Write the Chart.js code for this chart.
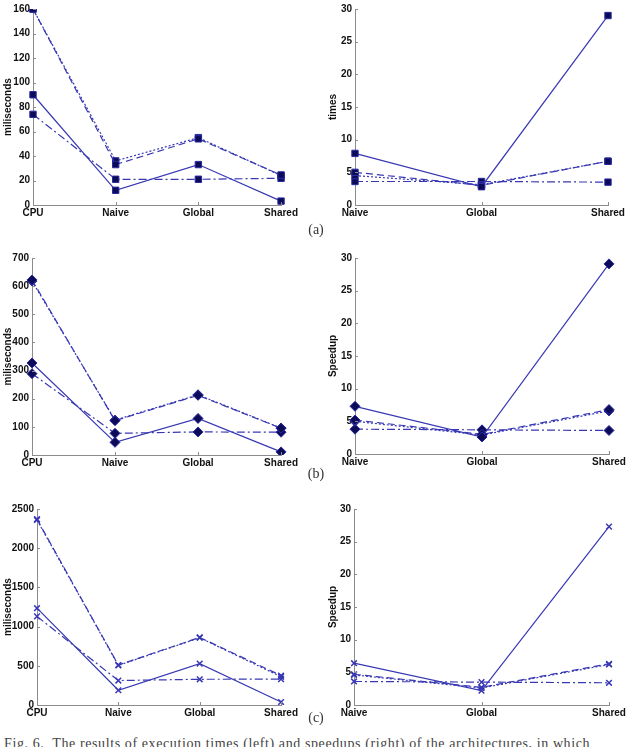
<!DOCTYPE html>
<html>
<head>
<meta charset="utf-8">
<script src="https://cdn.jsdelivr.net/npm/chart.js@4.4.1/dist/chart.umd.min.js"></script>
<style>
  body { margin: 0; width: 632px; height: 747px; overflow: hidden; background: #fff; position: relative; }
  .box { position: absolute; }
  .tag { position: absolute; width: 40px; text-align: center; font-family: 'Liberation Serif', 'DejaVu Serif', serif; font-size: 14px; color: #333; }
  .cap { position: absolute; left: 4px; top: 736px; white-space: nowrap; font-family: 'Liberation Serif', serif; font-size: 14px; color: #444; letter-spacing: 0.6px; }
</style>
</head>
<body>
<div class="box" style="left:0;top:0"><canvas id="aL"></canvas></div>
<div class="box" style="left:318px;top:0"><canvas id="aR"></canvas></div>
<div class="tag" style="left:296px;top:222px">(a)</div>
<div class="box" style="left:0;top:245px"><canvas id="bL"></canvas></div>
<div class="box" style="left:318px;top:245px"><canvas id="bR"></canvas></div>
<div class="tag" style="left:296px;top:466px">(b)</div>
<div class="box" style="left:0;top:490px"><canvas id="cL"></canvas></div>
<div class="box" style="left:318px;top:490px"><canvas id="cR"></canvas></div>
<div class="tag" style="left:296px;top:710px">(c)</div>
<div class="cap">Fig. 6.&nbsp; The results of execution times (left) and speedups (right) of the architectures, in which</div>

<script>
// categories
const stagesTime = ['CPU', 'Naive', 'Global', 'Shared'];
const stagesSpeed = ['Naive', 'Global', 'Shared'];

// (a) execution times, ms
const aSolid   = [90, 12, 33, 3.2];
const aDashed  = [160, 33, 54, 24.5];
const aDotted  = [160, 36, 55, 24];
const aDashDot = [74, 21, 21, 21.8];
// (a) speedups
const aSpSolid   = [7.9, 2.8, 29];
const aSpDashed  = [5.0, 3.0, 6.7];
const aSpDotted  = [4.5, 3.1, 6.7];
const aSpDashDot = [3.6, 3.6, 3.5];

// (b) execution times, ms
const bSolid   = [327, 45, 130, 11];
const bDashed  = [622, 122, 212, 95];
const bDotted  = [618, 124, 214, 96];
const bDashDot = [289, 77, 82, 81];
// (b) speedups
const bSpSolid   = [7.3, 2.6, 29.1];
const bSpDashed  = [5.2, 3.0, 6.8];
const bSpDotted  = [5.0, 2.9, 6.6];
const bSpDashDot = [3.8, 3.7, 3.6];

// (c) execution times, ms
const cSolid   = [1235, 188, 528, 38];
const cDashed  = [2370, 510, 862, 376];
const cDotted  = [2360, 505, 858, 360];
const cDashDot = [1130, 312, 328, 330];
// (c) speedups
const cSpSolid   = [6.4, 2.2, 27.3];
const cSpDashed  = [4.7, 2.7, 6.3];
const cSpDotted  = [4.6, 2.6, 6.2];
const cSpDashDot = [3.6, 3.5, 3.4];

const LINE = '#3838b4';
const MARK = '#0b0b58';
const AXIS = '#8c8c8c';
const FONT = "'Liberation Sans', Arial, sans-serif";
const dashes = [[], [7, 4], [2, 2], [8, 3, 2, 3]];

/** Matlab-style tick marks pointing into the plot */
const innerTicks = {
  id: 'innerTicks',
  afterDraw(chart) {
    const { ctx, chartArea: a, scales } = chart;
    ctx.save();
    ctx.strokeStyle = AXIS;
    ctx.lineWidth = 1;
    scales.x.ticks.forEach((t, i) => {
      const px = Math.round(scales.x.getPixelForTick(i)) + 0.5;
      ctx.beginPath(); ctx.moveTo(px, a.bottom); ctx.lineTo(px, a.bottom - 3); ctx.stroke();
    });
    scales.y.ticks.forEach((t, i) => {
      const py = Math.round(scales.y.getPixelForTick(i)) + 0.5;
      ctx.beginPath(); ctx.moveTo(a.left, py); ctx.lineTo(a.left + 3, py); ctx.stroke();
    });
    ctx.restore();
  }
};

function makeChart(id, box, area, labels, series, yMax, yStep, yTitle, titlePad, marker, markR) {
  const el = document.getElementById(id);
  el.width = box.w; el.height = box.h;
  el.style.width = box.w + 'px'; el.style.height = box.h + 'px';

  new Chart(el, {
    type: 'line',
    data: {
      labels: labels,
      datasets: series.map((s, i) => ({
        data: s,
        borderColor: LINE,
        borderWidth: 1.2,
        borderDash: dashes[i],
        fill: false,
        tension: 0,
        pointStyle: marker,
        pointRadius: markR,
        pointBackgroundColor: marker === 'crossRot' ? LINE : MARK,
        pointBorderColor: marker === 'crossRot' ? LINE : '#2a2aa0',
        pointBorderWidth: marker === 'crossRot' ? 1.5 : 1
      }))
    },
    options: {
      responsive: false,
      animation: false,
      events: [],
      layout: {
        padding: {
          top: area.t - box.y,
          right: box.x + box.w - area.r,
          bottom: box.y + box.h - area.b - 20,
          left: 0
        }
      },
      plugins: { legend: { display: false }, tooltip: { enabled: false } },
      scales: {
        x: {
          offset: false,
          grid: { display: false, drawTicks: false },
          border: { display: true, color: AXIS, width: 1 },
          ticks: { color: '#111', padding: 2, maxRotation: 0, autoSkip: false, font: { family: FONT, size: 10, weight: 'bold' } },
          afterFit: (s) => { s.height = 20; }
        },
        y: {
          min: 0,
          max: yMax,
          grid: { display: false, drawTicks: false },
          border: { display: true, color: AXIS, width: 1 },
          ticks: {
            stepSize: yStep, color: '#111', padding: 3,
            font: { family: FONT, size: 10, weight: 'bold' },
            callback: (v) => String(v)
          },
          title: { display: true, text: yTitle, color: '#111', padding: { top: titlePad, bottom: 0 }, font: { family: FONT, size: 10, weight: 'bold' } },
          afterFit: (s) => { s.width = area.l - box.x; }
        }
      }
    },
    plugins: [innerTicks]
  });
}

makeChart('aL', { x: 0, y: 0, w: 300, h: 230 }, { l: 33, t: 7, r: 282, b: 205 },
  stagesTime, [aSolid, aDashed, aDotted, aDashDot], 160, 20, 'miliseconds', 2, 'rect', 4.5);
makeChart('aR', { x: 318, y: 0, w: 314, h: 230 }, { l: 355, t: 9, r: 608, b: 205 },
  stagesSpeed, [aSpSolid, aSpDashed, aSpDotted, aSpDashDot], 30, 5, 'times', 9, 'rect', 4.5);

makeChart('bL', { x: 0, y: 245, w: 300, h: 230 }, { l: 32, t: 258, r: 282, b: 455 },
  stagesTime, [bSolid, bDashed, bDotted, bDashDot], 700, 100, 'miliseconds', 2, 'rectRot', 5);
makeChart('bR', { x: 318, y: 245, w: 314, h: 230 }, { l: 355, t: 258, r: 609, b: 454 },
  stagesSpeed, [bSpSolid, bSpDashed, bSpDotted, bSpDashDot], 30, 5, 'Speedup', 9, 'rectRot', 5);

makeChart('cL', { x: 0, y: 490, w: 300, h: 235 }, { l: 37, t: 509, r: 283, b: 705 },
  stagesTime, [cSolid, cDashed, cDotted, cDashDot], 2500, 500, 'miliseconds', 2, 'crossRot', 4);
makeChart('cR', { x: 318, y: 490, w: 314, h: 235 }, { l: 354, t: 509, r: 609, b: 705 },
  stagesSpeed, [cSpSolid, cSpDashed, cSpDotted, cSpDashDot], 30, 5, 'Speedup', 9, 'crossRot', 4);
</script>
</body>
</html>
